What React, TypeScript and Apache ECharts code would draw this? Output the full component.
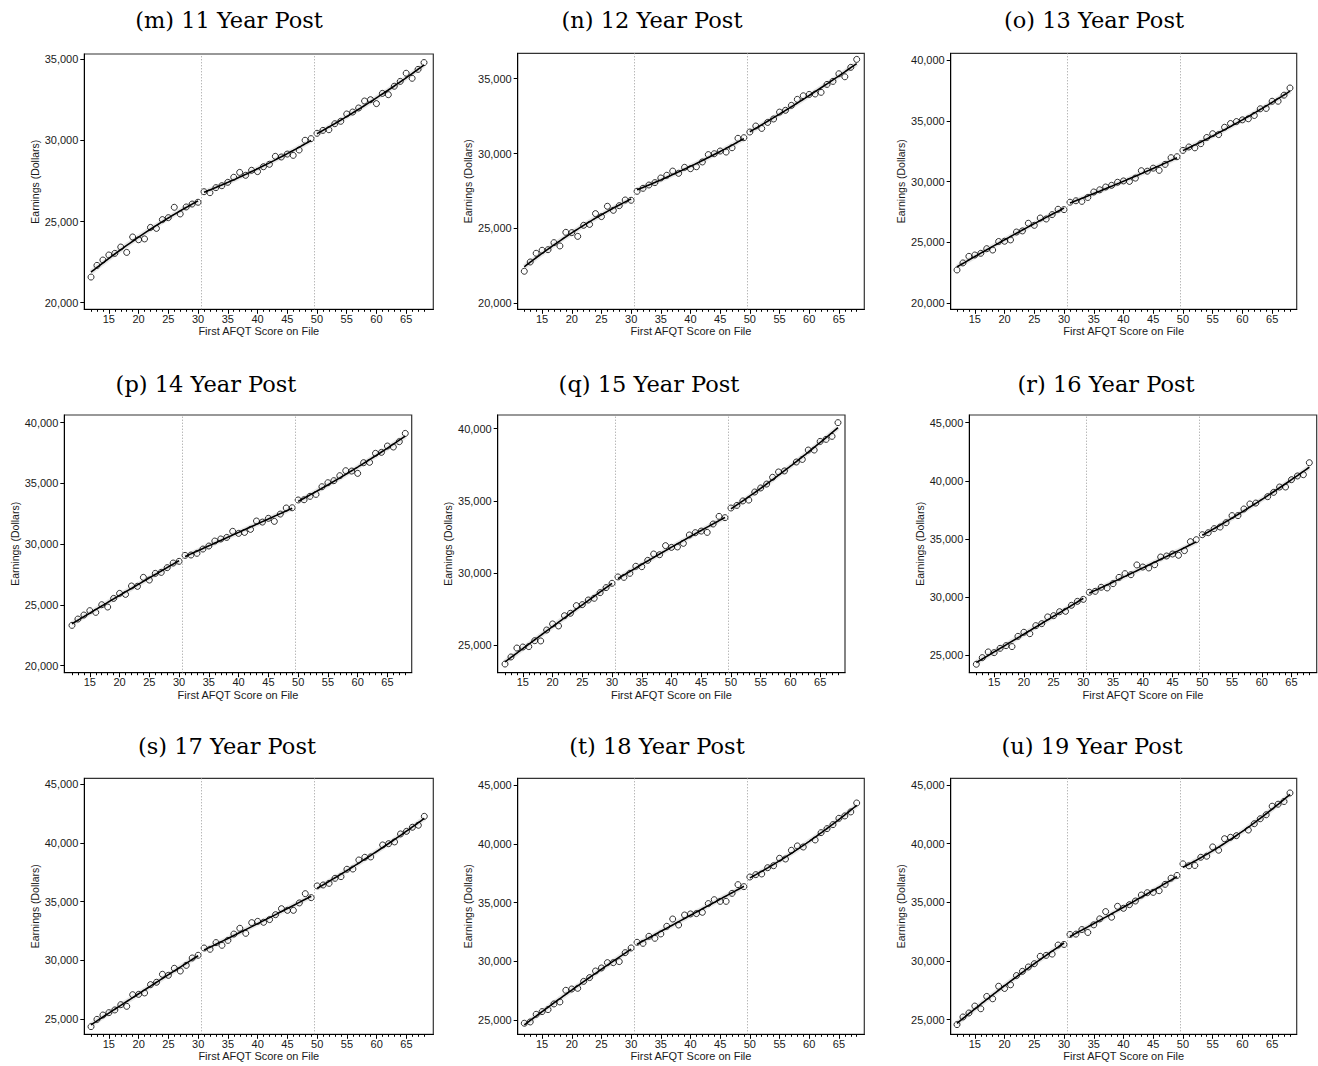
import React, { useEffect, useRef } from "react";
import * as echarts from "echarts";

// First AFQT score on file (x values shared by every panel)
const AFQT_SCORES = [
  12, 13, 14, 15, 16, 17, 18, 19, 20, 21, 22, 23, 24, 25, 26, 27, 28, 29, 30,
  31, 32, 33, 34, 35, 36, 37, 38, 39, 40, 41, 42, 43, 44, 45, 46, 47, 48, 49,
  50, 51, 52, 53, 54, 55, 56, 57, 58, 59, 60, 61, 62, 63, 64, 65, 66, 67, 68,
];

// Mean earnings (dollars) by AFQT score, one list per post-enlistment year
const earningsYear11 = [
  21580, 22300, 22630, 22940, 23040, 23430, 23100, 24050, 23880, 23930, 24640, 24580, 25120, 25240, 25880, 25470, 25900, 26080, 26190,
  26840, 26780, 27090, 27210, 27420, 27730, 28030, 27850, 28160, 28080, 28380, 28530, 29020, 28980, 29160, 29080, 29410, 30010, 30110,
  30440, 30620, 30660, 31030, 31180, 31630, 31750, 32000, 32430, 32510, 32270, 32900, 32820, 33340, 33640, 34140, 33830, 34380, 34800,
];
const earningsYear12 = [
  22140, 22760, 23340, 23540, 23580, 24050, 23830, 24740, 24720, 24470, 25210, 25270, 25990, 25790, 26480, 26210, 26520, 26900, 26880,
  27480, 27680, 27900, 28060, 28370, 28550, 28830, 28680, 29080, 28990, 29120, 29440, 29930, 29990, 30170, 30100, 30390, 31020, 31060,
  31440, 31840, 31680, 32080, 32310, 32770, 32890, 33220, 33620, 33860, 33950, 33980, 34090, 34620, 34820, 35330, 35130, 35760, 36290,
];
const earningsYear13 = [
  22740, 23320, 23860, 23970, 24110, 24490, 24380, 25080, 25100, 25210, 25860, 25950, 26580, 26410, 27010, 26930, 27290, 27730, 27700,
  28310, 28430, 28380, 28700, 29150, 29330, 29560, 29700, 29950, 30060, 30020, 30290, 30900, 30860, 31110, 30930, 31420, 31970, 32050,
  32570, 32850, 32780, 33120, 33630, 33940, 33870, 34470, 34780, 34940, 35080, 35170, 35440, 35990, 36020, 36610, 36610, 37110, 37700,
];
const earningsYear14 = [
  23320, 23840, 24170, 24530, 24390, 25020, 24830, 25540, 25950, 25870, 26560, 26530, 27270, 27050, 27600, 27680, 28070, 28450, 28590,
  29080, 29110, 29250, 29600, 29850, 30260, 30430, 30560, 31060, 30890, 30970, 31220, 31910, 31820, 32130, 31880, 32480, 32980, 33000,
  33640, 33660, 33940, 34100, 34730, 35060, 35230, 35640, 36050, 36020, 35830, 36710, 36740, 37480, 37560, 38080, 38000, 38440, 39120,
];
const earningsYear15 = [
  23680, 24170, 24790, 24860, 24890, 25300, 25280, 26040, 26460, 26320, 27030, 27200, 27730, 27800, 28120, 28240, 28630, 28980, 29280,
  29720, 29690, 29970, 30460, 30430, 30870, 31310, 31260, 31890, 31770, 31800, 32050, 32630, 32790, 32900, 32810, 33390, 33920, 33830,
  34500, 34680, 34990, 35050, 35610, 35890, 36160, 36630, 37000, 37070, null, 37690, 37870, 38520, 38520, 39120, 39260, 39470, 40420,
];
const earningsYear16 = [
  24230, 24800, 25290, 25230, 25600, 25830, 25750, 26630, 26980, 26860, 27550, 27720, 28300, 28410, 28750, 28780, 29300, 29640, 29810,
  30420, 30500, 30850, 30790, 31160, 31700, 32020, 31930, 32770, 32590, 32510, 32790, 33450, 33540, 33710, 33600, 34000, 34770, 34940,
  35370, 35540, 35890, 36030, 36400, 37010, 37010, 37580, 38010, 38090, null, 38640, 39010, 39470, 39470, 40100, 40420, 40530, 41560,
];
const earningsYear17 = [
  24350, 24970, 25340, 25540, 25770, 26220, 26080, 27070, 27100, 27220, 27930, 28130, 28810, 28720, 29320, 29090, 29570, 30200, 30430,
  31050, 30940, 31510, 31280, 31700, 32240, 32730, 32300, 33210, 33320, 33240, 33470, 33890, 34400, 34260, 34260, 34890, 35680, 35340,
  36340, 36420, 36560, 36990, 37130, 37760, 37780, 38550, 38780, 38810, null, 39830, 39940, 40090, 40770, 40990, 41340, 41510, 42270,
];
const earningsYear18 = [
  24750, 24860, 25510, 25740, 25910, 26390, 26560, 27550, 27660, 27720, 28310, 28630, 29190, 29450, 29900, 29900, 29990, 30750, 31150,
  31630, 31540, 32140, 31970, 32340, 32990, 33610, 33100, 33950, 34040, 34070, 34180, 34920, 35250, 35110, 35110, 35790, 36530, 36360,
  37180, 37380, 37440, 37970, 38140, 38770, 38710, 39450, 39820, 39730, null, 40330, 40950, 41290, 41630, 42170, 42370, 42710, 43470,
];
const earningsYear19 = [
  24580, 25230, 25570, 26160, 25930, 26980, 26780, 27850, 27660, 27970, 28760, 29120, 29490, 29770, 30400, 30480, 30590, 31360, 31410,
  32260, 32290, 32680, 32430, 33080, 33590, 34210, 33730, 34660, 34490, 34800, 35110, 35620, 35820, 35850, 35990, 36530, 37060, 37290,
  38280, 38110, 38140, 38840, 38930, 39720, 39440, 40420, 40540, 40680, null, 41160, 41700, 42120, 42460, 43190, 43360, 43590, 44320,
];

const PANEL_TITLES = [
  "(m) 11 Year Post", "(n) 12 Year Post", "(o) 13 Year Post",
  "(p) 14 Year Post", "(q) 15 Year Post", "(r) 16 Year Post",
  "(s) 17 Year Post", "(t) 18 Year Post", "(u) 19 Year Post",
];

// Tick labels
const X_TICK_LABELS = [15, 20, 25, 30, 35, 40, 45, 50, 55, 60, 65];
const X_MINOR_TICKS = AFQT_SCORES;
const Y_TICKS_11 = [20000, 25000, 30000, 35000];
const Y_TICKS_12 = [20000, 25000, 30000, 35000];
const Y_TICKS_13 = [20000, 25000, 30000, 35000, 40000];
const Y_TICKS_14 = [20000, 25000, 30000, 35000, 40000];
const Y_TICKS_15 = [25000, 30000, 35000, 40000];
const Y_TICKS_16 = [25000, 30000, 35000, 40000, 45000];
const Y_TICKS_17 = [25000, 30000, 35000, 40000, 45000];
const Y_TICKS_18 = [25000, 30000, 35000, 40000, 45000];
const Y_TICKS_19 = [25000, 30000, 35000, 40000, 45000];

// Score cut-offs (dotted lines) and the score ranges fitted separately
const CUTOFFS = [30.5, 49.5];
const FIT_RANGES = [[12, 30], [31, 49], [50, 68]];

const PANEL_SERIES = [
  earningsYear11, earningsYear12, earningsYear13,
  earningsYear14, earningsYear15, earningsYear16,
  earningsYear17, earningsYear18, earningsYear19,
];
const PANEL_Y_TICKS = [
  Y_TICKS_11, Y_TICKS_12, Y_TICKS_13,
  Y_TICKS_14, Y_TICKS_15, Y_TICKS_16,
  Y_TICKS_17, Y_TICKS_18, Y_TICKS_19,
];

// Panel geometry on the page and axis extents
const LAYOUT = [
  { left: 84.3, top: 54, width: 349, height: 255.3, xMin: 10.87, xMax: 69.56, yMin: 19593, yMax: 35327, tx: 229, ty: 20 },
  { left: 517.7, top: 53.3, width: 346.6, height: 256, xMin: 10.89, xMax: 69.28, yMin: 19599, yMax: 36697, tx: 652, ty: 20 },
  { left: 950.7, top: 53.3, width: 346, height: 256, xMin: 10.94, xMax: 69.13, yMin: 19507, yMax: 40551, tx: 1094, ty: 20 },
  { left: 64.3, top: 415, width: 347.4, height: 257.7, xMin: 10.71, xMax: 69.08, yMin: 19424, yMax: 40634, tx: 206, ty: 384 },
  { left: 497.7, top: 415, width: 347.3, height: 257.7, xMin: 10.77, xMax: 69.18, yMin: 23079, yMax: 40950, tx: 649, ty: 384 },
  { left: 969.3, top: 415, width: 347.4, height: 257.7, xMin: 10.82, xMax: 69.24, yMin: 23504, yMax: 45662, tx: 1106, ty: 384 },
  { left: 84.3, top: 778.3, width: 349, height: 256, xMin: 10.87, xMax: 69.51, yMin: 23696, yMax: 45511, tx: 227, ty: 746 },
  { left: 517.7, top: 778.3, width: 346.6, height: 256, xMin: 10.89, xMax: 69.28, yMin: 23810, yMax: 45569, tx: 657, ty: 746 },
  { left: 950.7, top: 778.3, width: 346, height: 256, xMin: 10.94, xMax: 69.13, yMin: 23754, yMax: 45568, tx: 1092, ty: 746 },
];

const SANS = '"Liberation Sans", Arial, Helvetica, sans-serif';
const SERIF = '"DejaVu Serif", "Liberation Serif", serif';
const AXIS_TEXT = { fontSize: 11, fontFamily: SANS, color: "#1a1a1a" };

// Least-squares quadratic fit, returned as a function of x
function quadraticFit(xs: number[], ys: number[]) {
  const n = xs.length;
  const mx = xs.reduce((a, b) => a + b, 0) / n;
  let s1 = 0, s2 = 0, s3 = 0, s4 = 0, t0 = 0, t1 = 0, t2 = 0;
  for (let i = 0; i < n; i++) {
    const u = xs[i] - mx;
    const y = ys[i];
    s1 += u; s2 += u * u; s3 += u * u * u; s4 += u * u * u * u;
    t0 += y; t1 += u * y; t2 += u * u * y;
  }
  const det = (m: number[][]) =>
    m[0][0] * (m[1][1] * m[2][2] - m[1][2] * m[2][1]) -
    m[0][1] * (m[1][0] * m[2][2] - m[1][2] * m[2][0]) +
    m[0][2] * (m[1][0] * m[2][1] - m[1][1] * m[2][0]);
  const A = [[n, s1, s2], [s1, s2, s3], [s2, s3, s4]];
  const r = [t0, t1, t2];
  const D = det(A);
  const col = (c: number) => A.map((row, i) => row.map((v, j) => (j === c ? r[i] : v)));
  const a = det(col(0)) / D;
  const b = det(col(1)) / D;
  const c = det(col(2)) / D;
  return (x: number) => { const u = x - mx; return a + b * u + c * u * u; };
}

const fmtThousands = (v: number) => Math.round(v).toLocaleString("en-US");

function buildOption() {
  const grid: any[] = [];
  const xAxis: any[] = [];
  const yAxis: any[] = [];
  const series: any[] = [];
  const graphic: any[] = [];

  LAYOUT.forEach((L, k) => {
    const values = PANEL_SERIES[k];
    grid.push({
      left: L.left, top: L.top, width: L.width, height: L.height,
      show: true, borderColor: "#333", borderWidth: 1.2, backgroundColor: "#fff",
      containLabel: false,
    });
    // Main x axis: labels and major ticks
    xAxis.push({
      type: "value", gridIndex: k, min: L.xMin, max: L.xMax, position: "bottom",
      name: "First AFQT Score on File", nameLocation: "middle", nameGap: 16.5,
      nameTextStyle: { ...AXIS_TEXT },
      axisLine: { show: true, onZero: false, lineStyle: { color: "#000", width: 1 } },
      axisTick: { show: true, length: 4.5, customValues: X_TICK_LABELS, lineStyle: { color: "#000", width: 1 } },
      axisLabel: { show: true, customValues: X_TICK_LABELS, margin: 4, ...AXIS_TEXT },
      splitLine: { show: false },
    });
    // Second x axis carrying the unit (minor) ticks
    xAxis.push({
      type: "value", gridIndex: k, min: L.xMin, max: L.xMax, position: "bottom",
      axisLine: { show: false, onZero: false },
      axisTick: { show: true, length: 2.5, customValues: X_MINOR_TICKS, lineStyle: { color: "#000", width: 1 } },
      axisLabel: { show: false },
      splitLine: { show: false },
    });
    const yTicks = PANEL_Y_TICKS[k];
    yAxis.push({
      type: "value", gridIndex: k, min: L.yMin, max: L.yMax, position: "left",
      name: "Earnings (Dollars)", nameLocation: "middle", nameGap: 44, nameRotate: 90,
      nameTextStyle: { ...AXIS_TEXT, fontSize: 10.5 },
      axisLine: { show: true, onZero: false, lineStyle: { color: "#000", width: 1 } },
      axisTick: { show: true, length: 4, customValues: yTicks, lineStyle: { color: "#000", width: 1 } },
      axisLabel: { show: true, customValues: yTicks, margin: 6, formatter: fmtThousands, ...AXIS_TEXT },
      splitLine: { show: false },
    });

    const points: [number, number][] = [];
    AFQT_SCORES.forEach((x, i) => {
      const v = values[i];
      if (v !== null && v !== undefined) points.push([x, v]);
    });

    series.push({
      type: "scatter", xAxisIndex: 2 * k, yAxisIndex: k, data: points,
      symbol: "circle", symbolSize: 6, z: 4,
      itemStyle: { color: "rgba(0,0,0,0)", borderColor: "#000", borderWidth: 1 },
      markLine: {
        silent: true, symbol: ["none", "none"], label: { show: false },
        lineStyle: { color: "#9a9a9a", type: [1, 2], width: 1 },
        data: CUTOFFS.map((c) => ({ xAxis: c })),
      },
    });

    FIT_RANGES.forEach(([lo, hi]) => {
      const seg = points.filter(([x]) => x >= lo && x <= hi);
      const f = quadraticFit(seg.map((p) => p[0]), seg.map((p) => p[1]));
      const curve: [number, number][] = [];
      for (let x = lo; x <= hi + 1e-9; x += 0.25) curve.push([x, f(x)]);
      series.push({
        type: "line", xAxisIndex: 2 * k, yAxisIndex: k, data: curve,
        showSymbol: false, silent: true, z: 1,
        lineStyle: { color: "rgba(0,0,0,0.09)", width: 5 },
      });
      series.push({
        type: "line", xAxisIndex: 2 * k, yAxisIndex: k, data: curve,
        showSymbol: false, silent: true, z: 3,
        lineStyle: { color: "#000", width: 1.6 },
      });
    });

    graphic.push({
      type: "text", x: L.tx, y: L.ty, silent: true,
      style: {
        text: PANEL_TITLES[k], fill: "#000", font: `22.5px ${SERIF}`,
        align: "center", verticalAlign: "middle",
      },
    });
  });

  return {
    animation: false,
    backgroundColor: "#fff",
    grid, xAxis, yAxis, series, graphic,
  };
}

export default function App() {
  const ref = useRef<HTMLDivElement>(null);
  useEffect(() => {
    if (!ref.current) return;
    const chart = echarts.init(ref.current, undefined, { renderer: "svg" });
    chart.setOption(buildOption() as any);
    return () => chart.dispose();
  }, []);
  return (
    <div
      ref={ref}
      style={{ position: "absolute", left: 0, top: 0, width: 1318, height: 1066, background: "#fff" }}
    />
  );
}
